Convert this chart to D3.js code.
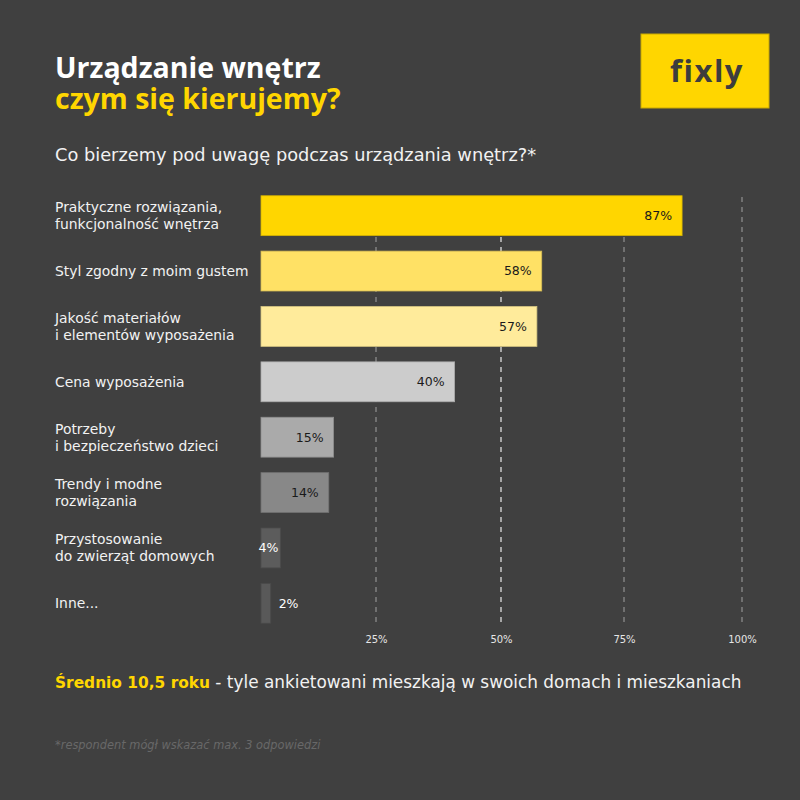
<!DOCTYPE html>
<html>
<head>
<meta charset="utf-8">
<script src="https://cdn.jsdelivr.net/npm/d3@7"></script>
<style>
  html, body { margin: 0; padding: 0; background: #404040; }
  svg { display: block; }
  text { font-family: "DejaVu Sans", "Open Sans", sans-serif; }
  text.os { font-family: "Open Sans", "DejaVu Sans", sans-serif; }
</style>
</head>
<body>
<div id="chart"></div>
<script>
// data
const categories = [
  ["Praktyczne rozwiązania,", "funkcjonalność wnętrza"],
  ["Styl zgodny z moim gustem"],
  ["Jakość materiałów", "i elementów wyposażenia"],
  ["Cena wyposażenia"],
  ["Potrzeby", "i bezpieczeństwo dzieci"],
  ["Trendy i modne", "rozwiązania"],
  ["Przystosowanie", "do zwierząt domowych"],
  ["Inne..."]
];
const values = [87, 58, 57, 40, 15, 14, 4, 2];
const barColors = ["#ffd600", "#ffe165", "#ffeb9b", "#cccccc", "#aaaaaa", "#888888", "#5c5c5c", "#595959"];
const ticks = [25, 50, 75, 100];

const W = 800, H = 800;
const svg = d3.select("#chart").append("svg")
  .attr("width", W).attr("height", H)
  .attr("viewBox", `0 0 ${W} ${H}`);

svg.append("rect").attr("width", W).attr("height", H).attr("fill", "#404040");

// titles
const title = svg.append("text").attr("class", "os")
  .attr("font-size", 28.5).attr("font-weight", 700);
title.append("tspan").attr("x", 55).attr("y", 78).attr("fill", "#fff").text("Urządzanie wnętrz");
title.append("tspan").attr("x", 55).attr("y", 109).attr("fill", "#ffd600").text("czym się kierujemy?");

svg.append("text").attr("x", 55).attr("y", 161)
  .attr("fill", "#f2f2f2").attr("font-size", 17.8)
  .text("Co bierzemy pod uwagę podczas urządzania wnętrz?*");

// logo
const logo = svg.append("g").attr("transform", "translate(641,34)");
logo.append("rect").attr("width", 128).attr("height", 74)
  .attr("fill", "#ffd600").attr("stroke", "#c9a900").attr("stroke-width", 1);
logo.append("text").attr("class", "os").attr("x", 66).attr("y", 48)
  .attr("text-anchor", "middle").attr("fill", "#3d3d3d")
  .attr("font-size", 31).attr("font-weight", 700).attr("letter-spacing", 1.5)
  .text("fixly");

// scales
const x = d3.scaleLinear().domain([0, 100]).range([261, 745]);
const y = d3.scaleBand().domain(d3.range(values.length)).range([188, 631]).paddingInner(0.28).paddingOuter(0.14);

// gridlines
const shift = d => (d === 25 ? -6 : d === 50 ? -2 : d === 100 ? -3 : 0);
const grid = svg.append("g");
grid.selectAll("line").data(ticks).join("line")
  .attr("x1", d => x(d) + shift(d))
  .attr("x2", d => x(d) + shift(d))
  .attr("y1", 197).attr("y2", 624)
  .attr("stroke", d => d === 50 ? "#dddddd" : "#8a8a8a")
  .attr("stroke-width", 1.3)
  .attr("stroke-dasharray", "5,5");

// axis labels
const axis = svg.append("g")
  .attr("transform", "translate(0,633)")
  .call(d3.axisBottom(x).tickValues(ticks).tickSize(0).tickFormat(d => d + "%"));
axis.select(".domain").remove();
axis.selectAll("text")
  .attr("fill", "#e6e6e6").attr("font-size", 10)
  .attr("dx", d => shift(d));

// bars
const rows = svg.append("g").selectAll("g").data(values).join("g")
  .attr("transform", (d, i) => `translate(0,${y(i)})`);

rows.append("rect")
  .attr("x", x(0))
  .attr("width", d => x(d) - x(0))
  .attr("height", y.bandwidth())
  .attr("fill", (d, i) => barColors[i])
  .attr("stroke", (d, i) => d3.color(barColors[i]).darker(0.5))
  .attr("stroke-width", 0.8);

rows.append("text")
  .attr("x", d => d > 10 ? x(d) - 10 : d > 3 ? x(d) - 2 : x(d) + 8)
  .attr("y", y.bandwidth() / 2)
  .attr("dy", "0.35em")
  .attr("text-anchor", d => d > 3 ? "end" : "start")
  .attr("fill", (d, i) => i < 6 ? "#1a1a1a" : "#ffffff")
  .attr("font-size", 12.5)
  .text(d => d + "%");

// category labels
rows.append("text")
  .attr("x", 55)
  .attr("fill", "#f2f2f2")
  .attr("font-size", 13.9)
  .each(function(d, i) {
    const lines = categories[i];
    const lh = 17;
    const start = y.bandwidth() / 2 - (lines.length - 1) * lh / 2;
    d3.select(this).selectAll("tspan").data(lines).join("tspan")
      .attr("x", 55)
      .attr("y", (t, j) => start + j * lh)
      .attr("dy", "0.35em")
      .text(t => t);
  });

// bottom note
const note = svg.append("text").attr("x", 55).attr("y", 688);
note.append("tspan").attr("fill", "#ffd600").attr("font-weight", 700).attr("font-size", 15.4).text("Średnio 10,5 roku");
note.append("tspan").attr("fill", "#f2f2f2").attr("font-size", 16.9).text(" - tyle ankietowani mieszkają w swoich domach i mieszkaniach");

svg.append("text").attr("x", 55).attr("y", 749)
  .attr("fill", "#686868").attr("font-size", 11.4).attr("font-style", "italic")
  .text("*respondent mógł wskazać max. 3 odpowiedzi");
</script>
</body>
</html>
